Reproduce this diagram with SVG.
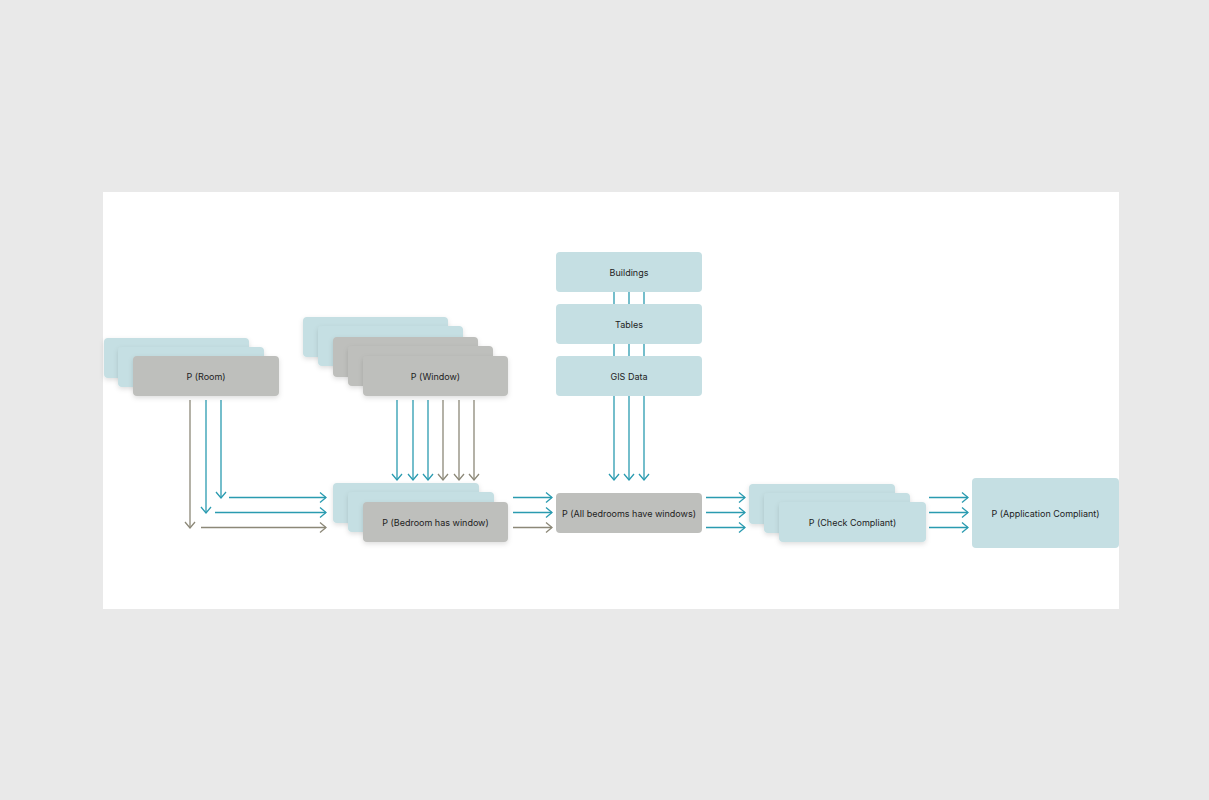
<svg xmlns="http://www.w3.org/2000/svg" width="1209" height="800" viewBox="0 0 1209 800">
<style>
.b{fill:#c5dfe3}
.g{fill:#bebfbc}
.s{filter:url(#sh)}
.t{font-family:Inter,"Noto Sans",sans-serif;font-size:9px;fill:#222;text-anchor:middle;dominant-baseline:central}
.lb{stroke:#2a9bb0;stroke-width:1.3;fill:none}
.lg{stroke:#8c8878;stroke-width:1.3;fill:none}
</style>
<defs>
<filter id="sh" x="-20%" y="-40%" width="140%" height="190%">
<feDropShadow dx="0" dy="2" stdDeviation="2.5" flood-color="#000" flood-opacity="0.13"/>
</filter>
<marker id="ab" viewBox="0 0 10 12" refX="9" refY="6" markerWidth="10" markerHeight="12" markerUnits="userSpaceOnUse" orient="auto">
<path d="M3,1 L9,6 L3,11" fill="none" stroke="#2a9bb0" stroke-width="1.3"/>
</marker>
<marker id="ag" viewBox="0 0 10 12" refX="9" refY="6" markerWidth="10" markerHeight="12" markerUnits="userSpaceOnUse" orient="auto">
<path d="M3,1 L9,6 L3,11" fill="none" stroke="#8c8878" stroke-width="1.3"/>
</marker>
</defs>
<rect width="1209" height="800" fill="#e9e9e9"/>
<rect x="103" y="192" width="1016" height="417" fill="#fff"/>
<g id="connectors">
<line class="lg" x1="190" y1="400" x2="190" y2="528" marker-end="url(#ag)"/>
<line class="lb" x1="206" y1="400" x2="206" y2="513" marker-end="url(#ab)"/>
<line class="lb" x1="221" y1="400" x2="221" y2="498" marker-end="url(#ab)"/>
<line class="lb" x1="229" y1="497.5" x2="326" y2="497.5" marker-end="url(#ab)"/>
<line class="lb" x1="215" y1="512.5" x2="326" y2="512.5" marker-end="url(#ab)"/>
<line class="lg" x1="201" y1="527.5" x2="326" y2="527.5" marker-end="url(#ag)"/>
<line class="lb" x1="397" y1="400" x2="397" y2="480" marker-end="url(#ab)"/>
<line class="lb" x1="413" y1="400" x2="413" y2="480" marker-end="url(#ab)"/>
<line class="lb" x1="428" y1="400" x2="428" y2="480" marker-end="url(#ab)"/>
<line class="lg" x1="443" y1="400" x2="443" y2="480" marker-end="url(#ag)"/>
<line class="lg" x1="459" y1="400" x2="459" y2="480" marker-end="url(#ag)"/>
<line class="lg" x1="474" y1="400" x2="474" y2="480" marker-end="url(#ag)"/>
<line class="lb" x1="614" y1="292" x2="614" y2="480" marker-end="url(#ab)"/>
<line class="lb" x1="629" y1="292" x2="629" y2="480" marker-end="url(#ab)"/>
<line class="lb" x1="644" y1="292" x2="644" y2="480" marker-end="url(#ab)"/>
<line class="lb" x1="513" y1="497.5" x2="552" y2="497.5" marker-end="url(#ab)"/>
<line class="lb" x1="513" y1="512.5" x2="552" y2="512.5" marker-end="url(#ab)"/>
<line class="lg" x1="513" y1="527.5" x2="552" y2="527.5" marker-end="url(#ag)"/>
<line class="lb" x1="706" y1="497.5" x2="745" y2="497.5" marker-end="url(#ab)"/>
<line class="lb" x1="706" y1="512.5" x2="745" y2="512.5" marker-end="url(#ab)"/>
<line class="lb" x1="706" y1="527.5" x2="745" y2="527.5" marker-end="url(#ab)"/>
<line class="lb" x1="929" y1="497.5" x2="968" y2="497.5" marker-end="url(#ab)"/>
<line class="lb" x1="929" y1="512.5" x2="968" y2="512.5" marker-end="url(#ab)"/>
<line class="lb" x1="929" y1="527.5" x2="968" y2="527.5" marker-end="url(#ab)"/>
</g>
<g id="room">
<rect class="b s" x="104" y="338" width="145" height="40" rx="4"/>
<rect class="b s" x="118" y="347" width="146" height="40" rx="4"/>
<rect class="g s" x="133" y="356" width="146" height="40" rx="4"/>
<text class="t" x="206" y="376">P (Room)</text>
</g>
<g id="window">
<rect class="b s" x="303" y="317" width="145" height="40" rx="4"/>
<rect class="b s" x="318" y="326" width="145" height="40" rx="4"/>
<rect class="g s" x="333" y="337" width="145" height="40" rx="4"/>
<rect class="g s" x="348" y="346" width="145" height="40" rx="4"/>
<rect class="g s" x="363" y="356" width="145" height="40" rx="4"/>
<text class="t" x="435.5" y="376.5">P (Window)</text>
</g>
<g id="bedroom">
<rect class="b s" x="333" y="483" width="146" height="40" rx="4"/>
<rect class="b s" x="348" y="492" width="146" height="40" rx="4"/>
<rect class="g s" x="363" y="502" width="145" height="40" rx="4"/>
<text class="t" x="435.5" y="522">P (Bedroom has window)</text>
</g>
<g id="buildings">
<rect class="b" x="556" y="252" width="146" height="40" rx="4"/>
<text class="t" x="629" y="272.5">Buildings</text>
</g>
<g id="tables">
<rect class="b" x="556" y="304" width="146" height="40" rx="4"/>
<text class="t" x="629" y="324.5">Tables</text>
</g>
<g id="gis">
<rect class="b" x="556" y="356" width="146" height="40" rx="4"/>
<text class="t" x="629" y="376.5">GIS Data</text>
</g>
<g id="allbedrooms">
<rect class="g" x="556" y="493" width="146" height="40" rx="4"/>
<text class="t" x="629" y="513">P (All bedrooms have windows)</text>
</g>
<g id="check">
<rect class="b s" x="749" y="484" width="146" height="40" rx="4"/>
<rect class="b s" x="764" y="493" width="146" height="40" rx="4"/>
<rect class="b s" x="779" y="502" width="147" height="40" rx="4"/>
<text class="t" x="852.5" y="522">P (Check Compliant)</text>
</g>
<g id="application">
<rect class="b" x="972" y="478" width="147" height="70" rx="4"/>
<text class="t" x="1045.5" y="513">P (Application Compliant)</text>
</g>
</svg>
